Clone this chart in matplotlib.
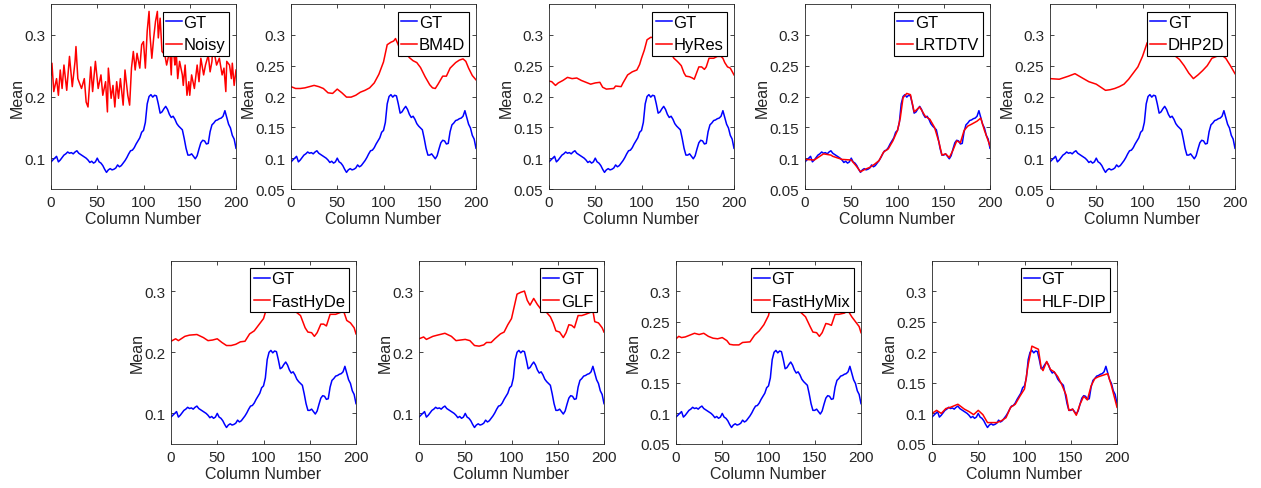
import matplotlib
matplotlib.use('Agg')
import matplotlib.pyplot as plt
from matplotlib.ticker import FixedLocator

plt.rcParams['font.family'] = ['Liberation Sans', 'DejaVu Sans']

# ---------------- data ----------------
gt_cols = list(range(0, 201, 2))
gt_vals = [0.094, 0.097, 0.100, 0.103, 0.094, 0.097, 0.101, 0.105, 0.107, 0.110,
           0.108, 0.109, 0.107, 0.110, 0.112, 0.108, 0.106, 0.104, 0.102, 0.100,
           0.097, 0.093, 0.095, 0.092, 0.094, 0.100, 0.094, 0.092, 0.088, 0.082,
           0.077, 0.081, 0.083, 0.081, 0.082, 0.084, 0.089, 0.086, 0.088, 0.092,
           0.096, 0.101, 0.107, 0.112, 0.113, 0.117, 0.123, 0.128, 0.133, 0.142,
           0.145, 0.158, 0.188, 0.200, 0.203, 0.199, 0.202, 0.201, 0.188, 0.173,
           0.175, 0.180, 0.184, 0.179, 0.171, 0.166, 0.168, 0.163, 0.156, 0.152,
           0.149, 0.146, 0.132, 0.116, 0.105, 0.105, 0.107, 0.103, 0.099, 0.104,
           0.115, 0.125, 0.129, 0.128, 0.123, 0.124, 0.143, 0.154, 0.157, 0.161,
           0.162, 0.164, 0.165, 0.168, 0.177, 0.166, 0.155, 0.149, 0.137, 0.131,
           0.116]

noisy_cols = [0, 1, 3, 6, 8, 10, 12, 14, 17, 20, 23, 26, 27, 29, 33, 36, 38, 40, 43, 45,
              48, 51, 54, 56, 59, 61, 62, 65, 67, 69, 71, 73, 75, 78, 80, 83, 85, 87, 89,
              91, 93, 96, 98, 100, 102, 104, 106, 107, 109, 111, 113, 115, 116, 118, 120,
              123, 125, 127, 128, 130, 131, 133, 134, 135, 137, 139, 142, 143, 145, 147,
              149, 150, 152, 155, 158, 160, 162, 165, 167, 170, 172, 174, 175, 177, 179,
              182, 185, 187, 189, 190, 193, 195, 196, 198, 200]
noisy_vals = [0.235, 0.254, 0.208, 0.229, 0.202, 0.243, 0.213, 0.251, 0.210, 0.265,
              0.216, 0.257, 0.281, 0.229, 0.213, 0.229, 0.191, 0.183, 0.248, 0.208,
              0.257, 0.213, 0.235, 0.202, 0.224, 0.175, 0.246, 0.197, 0.218, 0.183,
              0.224, 0.197, 0.229, 0.186, 0.243, 0.202, 0.186, 0.246, 0.273, 0.243,
              0.270, 0.246, 0.284, 0.289, 0.246, 0.306, 0.338, 0.300, 0.262, 0.295,
              0.322, 0.338, 0.295, 0.327, 0.273, 0.268, 0.251, 0.265, 0.285, 0.235,
              0.280, 0.265, 0.251, 0.282, 0.229, 0.257, 0.235, 0.218, 0.251, 0.202,
              0.224, 0.202, 0.235, 0.213, 0.251, 0.224, 0.262, 0.235, 0.251, 0.267,
              0.240, 0.257, 0.282, 0.267, 0.251, 0.262, 0.235, 0.246, 0.208, 0.257,
              0.251, 0.229, 0.254, 0.218, 0.243]

bm4d_cols = [0, 5, 10, 15, 20, 25, 30, 35, 40, 45, 50, 55, 60, 65, 70, 75, 80, 85, 90,
             95, 100, 104, 108, 111, 113, 117, 120, 124, 128, 132, 136, 140, 145, 150,
             153, 156, 159, 164, 168, 172, 178, 182, 186, 189, 192, 196, 200]
bm4d_vals = [0.216, 0.213, 0.213, 0.214, 0.216, 0.218, 0.216, 0.213, 0.206, 0.205,
             0.212, 0.206, 0.199, 0.199, 0.202, 0.207, 0.210, 0.214, 0.222, 0.236,
             0.256, 0.284, 0.288, 0.290, 0.294, 0.280, 0.265, 0.271, 0.263, 0.258,
             0.255, 0.247, 0.232, 0.219, 0.214, 0.213, 0.220, 0.233, 0.233, 0.246,
             0.255, 0.259, 0.261, 0.257, 0.246, 0.234, 0.227]

hyres_cols = [0, 3, 7, 10, 15, 20, 25, 30, 35, 40, 45, 50, 55, 58, 62, 70, 72, 78, 80,
              85, 90, 95, 98, 100, 103, 106, 110, 115, 118, 122, 128, 135, 138, 140,
              143, 146, 148, 152, 155, 157, 160, 162, 165, 168, 170, 173, 178, 182, 186,
              188, 190, 193, 196, 200]
hyres_vals = [0.225, 0.224, 0.218, 0.222, 0.226, 0.231, 0.229, 0.230, 0.226, 0.223,
              0.220, 0.222, 0.223, 0.215, 0.212, 0.213, 0.217, 0.216, 0.222, 0.235,
              0.240, 0.243, 0.252, 0.262, 0.275, 0.292, 0.296, 0.295, 0.298, 0.290,
              0.280, 0.262, 0.258, 0.255, 0.250, 0.238, 0.233, 0.232, 0.230, 0.228,
              0.240, 0.248, 0.248, 0.244, 0.248, 0.262, 0.262, 0.265, 0.265, 0.262,
              0.255, 0.248, 0.246, 0.235]

lrtdtv_cols = [0, 10, 20, 28, 30, 40, 50, 55, 60, 65, 70, 75, 80, 85, 90, 95, 100, 103,
               106, 110, 114, 118, 124, 130, 135, 140, 145, 148, 152, 156, 160, 164,
               168, 172, 176, 180, 186, 190, 194, 200]
lrtdtv_vals = [0.098, 0.097, 0.107, 0.105, 0.103, 0.098, 0.097, 0.088, 0.078, 0.082,
               0.085, 0.090, 0.096, 0.110, 0.115, 0.128, 0.145, 0.165, 0.198, 0.205,
               0.203, 0.175, 0.183, 0.168, 0.163, 0.150, 0.125, 0.105, 0.107, 0.101,
               0.113, 0.128, 0.125, 0.145, 0.152, 0.155, 0.160, 0.165, 0.145, 0.120]

dhp2d_cols = [0, 10, 20, 27, 35, 42, 50, 55, 60, 65, 70, 75, 80, 85, 90, 95, 100, 105,
              110, 115, 120, 130, 140, 145, 150, 155, 160, 165, 170, 175, 180, 185,
              190, 195, 200]
dhp2d_vals = [0.229, 0.228, 0.233, 0.237, 0.230, 0.224, 0.220, 0.215, 0.210, 0.211,
              0.213, 0.216, 0.220, 0.228, 0.238, 0.248, 0.265, 0.287, 0.295, 0.292,
              0.283, 0.272, 0.260, 0.250, 0.238, 0.229, 0.235, 0.242, 0.250, 0.262,
              0.265, 0.268, 0.262, 0.250, 0.237]

fasthyde_cols = [0, 5, 8, 15, 20, 28, 35, 40, 45, 50, 55, 60, 65, 70, 75, 80, 85, 90,
                 95, 100, 103, 106, 110, 115, 120, 130, 140, 145, 148, 152, 155, 158,
                 162, 165, 168, 172, 178, 183, 186, 190, 194, 198, 200]
fasthyde_vals = [0.218, 0.222, 0.219, 0.226, 0.228, 0.229, 0.224, 0.219, 0.220, 0.222,
                 0.216, 0.211, 0.211, 0.213, 0.217, 0.218, 0.230, 0.235, 0.245, 0.255,
                 0.270, 0.290, 0.295, 0.292, 0.285, 0.272, 0.260, 0.240, 0.233, 0.232,
                 0.226, 0.232, 0.246, 0.246, 0.243, 0.262, 0.262, 0.265, 0.270, 0.252,
                 0.248, 0.240, 0.230]

glf_cols = [0, 5, 8, 15, 20, 28, 35, 40, 45, 50, 55, 60, 65, 70, 73, 78, 82, 88, 92, 96,
            100, 103, 106, 110, 114, 117, 120, 124, 128, 132, 135, 138, 142, 145, 148,
            152, 156, 159, 162, 165, 168, 172, 176, 180, 185, 188, 190, 194, 198, 200]
glf_vals = [0.222, 0.225, 0.221, 0.226, 0.228, 0.231, 0.226, 0.219, 0.220, 0.221,
            0.219, 0.211, 0.210, 0.212, 0.216, 0.216, 0.222, 0.230, 0.233, 0.245,
            0.255, 0.275, 0.295, 0.298, 0.300, 0.285, 0.277, 0.288, 0.278, 0.270,
            0.272, 0.265, 0.258, 0.248, 0.235, 0.233, 0.224, 0.232, 0.245, 0.244,
            0.240, 0.260, 0.260, 0.262, 0.265, 0.268, 0.250, 0.248, 0.240, 0.233]

fasthymix_cols = [0, 3, 6, 10, 20, 25, 30, 35, 40, 45, 50, 55, 58, 62, 68, 72, 80, 85,
                  90, 95, 100, 103, 107, 112, 118, 125, 130, 135, 140, 145, 148, 152,
                  155, 158, 162, 165, 168, 172, 176, 182, 186, 190, 194, 198, 200]
fasthymix_vals = [0.222, 0.226, 0.224, 0.225, 0.231, 0.229, 0.231, 0.226, 0.223, 0.222,
                  0.224, 0.219, 0.213, 0.212, 0.212, 0.216, 0.217, 0.228, 0.235, 0.245,
                  0.260, 0.280, 0.295, 0.298, 0.290, 0.275, 0.270, 0.265, 0.258, 0.242,
                  0.233, 0.232, 0.226, 0.232, 0.247, 0.246, 0.244, 0.262, 0.262, 0.264,
                  0.268, 0.258, 0.250, 0.242, 0.232]

hlfdip_cols = [0, 5, 10, 15, 20, 28, 35, 40, 45, 50, 55, 60, 65, 70, 75, 80, 85, 90, 95,
               100, 104, 108, 112, 115, 118, 120, 124, 128, 132, 136, 140, 145, 148,
               152, 156, 160, 164, 168, 172, 176, 180, 186, 190, 194, 200]
hlfdip_vals = [0.100, 0.105, 0.100, 0.108, 0.110, 0.115, 0.107, 0.103, 0.098, 0.105,
               0.098, 0.085, 0.085, 0.085, 0.088, 0.093, 0.110, 0.115, 0.128, 0.140,
               0.180, 0.210, 0.207, 0.205, 0.175, 0.170, 0.185, 0.172, 0.168, 0.160,
               0.148, 0.130, 0.105, 0.107, 0.097, 0.115, 0.128, 0.122, 0.145, 0.157,
               0.160, 0.163, 0.165, 0.145, 0.110]

method_names = ['Noisy', 'BM4D', 'HyRes', 'LRTDTV', 'DHP2D',
                'FastHyDe', 'GLF', 'FastHyMix', 'HLF-DIP']
method_cols = [noisy_cols, bm4d_cols, hyres_cols, lrtdtv_cols, dhp2d_cols,
               fasthyde_cols, glf_cols, fasthymix_cols, hlfdip_cols]
method_vals = [noisy_vals, bm4d_vals, hyres_vals, lrtdtv_vals, dhp2d_vals,
               fasthyde_vals, glf_vals, fasthymix_vals, hlfdip_vals]
yticks_coarse = [0.1, 0.2, 0.3]
yticks_fine = [0.05, 0.1, 0.15, 0.2, 0.25, 0.3]
xticks = [0, 50, 100, 150, 200]
coarse_panels = {'Noisy', 'FastHyDe', 'GLF'}

# ---------------- layout (pixel boxes) ----------------
W, H = 1261, 489
top_lefts = [51, 291, 549, 805, 1050]
bot_lefts = [171, 419, 676, 932]
boxes = [(l, 5, 185, 185) for l in top_lefts] + [(l, 261.5, 185, 183.5) for l in bot_lefts]

fig = plt.figure(figsize=(W / 100, H / 100), dpi=100)
axcol = '#262626'
for name, cols, vals, (l, t, w, h) in zip(method_names, method_cols, method_vals, boxes):
    ax = fig.add_axes([l / W, 1 - (t + h) / H, w / W, h / H])
    ax.plot(gt_cols, gt_vals, color='#0000ff', lw=1.1, label='GT')
    ax.plot(cols, vals, color='#ff0000', lw=1.1, label=name)
    ax.set_xlim(0, 200)
    ax.set_ylim(0.05, 0.35)
    ax.xaxis.set_major_locator(FixedLocator(xticks))
    ax.yaxis.set_major_locator(FixedLocator(yticks_coarse if name in coarse_panels else yticks_fine))
    ax.set_yticklabels([('%g' % v) for v in ax.get_yticks()])
    ax.tick_params(direction='in', length=3, width=0.6, top=True, right=True,
                   labelsize=11, colors=axcol, pad=4)
    for s in ax.spines.values():
        s.set_color(axcol)
        s.set_linewidth(0.6)
    ax.set_xlabel('Column Number', fontsize=11.5, color=axcol, labelpad=2)
    ax.set_ylabel('Mean', fontsize=11.5, color=axcol, labelpad=0)
    leg = ax.legend(loc='upper right', fontsize=12, frameon=True, fancybox=False,
                    framealpha=1, edgecolor='black', borderpad=0.2, labelspacing=0.45,
                    handlelength=0.95, handletextpad=0.1, borderaxespad=0.45)
    leg.get_frame().set_linewidth(0.8)
    leg.set_zorder(5)

fig.savefig('out.png', dpi=100)
